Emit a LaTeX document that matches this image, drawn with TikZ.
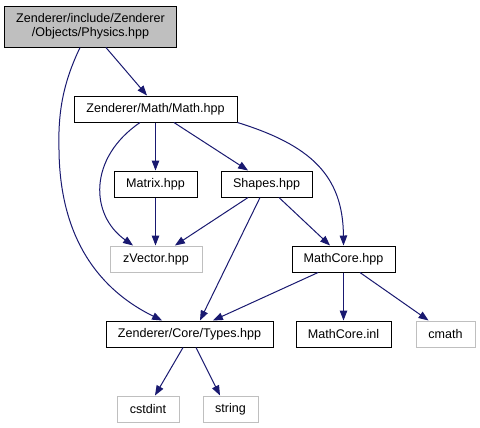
\documentclass[tikz,border=0pt]{standalone}
\usepackage{fontspec}
\setmainfont{Liberation Sans}
\usetikzlibrary{arrows.meta}
\definecolor{edgeblue}{HTML}{191970}
\definecolor{lgray}{HTML}{BFBFBF}
\begin{document}
\begin{tikzpicture}[x=1bp,y=-1bp,
  box/.style={draw=black,line width=1bp,fill=white,inner sep=0pt,minimum height=26bp,
    font=\fontsize{12.6}{14}\selectfont},
  graybox/.style={box,draw=lgray},
  rootbox/.style={box,fill=lgray,align=center,minimum height=41bp},
  dep/.style={draw=edgeblue,line width=1bp,-{Triangle[length=10bp,width=7.5bp]}}]
\useasboundingbox (0,0) rectangle (480,427);
\node[rootbox,minimum width=171bp] (phys) at (90.5,26.5) {Zenderer/include/Zenderer\\/Objects/Physics.hpp};
\node[box,minimum width=163bp] (math) at (155.5,109) {Zenderer/Math/Math.hpp};
\node[box,minimum width=83bp] (matrix) at (155.5,184) {Matrix.hpp};
\node[box,minimum width=91bp] (shapes) at (266.5,184) {Shapes.hpp};
\node[graybox,minimum width=92bp] (zvec) at (156,259) {zVector.hpp};
\node[box,minimum width=103bp] (mcore) at (343.5,259) {MathCore.hpp};
\node[box,minimum width=167bp] (types) at (189.5,334) {Zenderer/Core/Types.hpp};
\node[box,minimum width=95bp] (inl) at (343.5,334) {MathCore.inl};
\node[graybox,minimum width=59bp] (cmath) at (445.5,334) {cmath};
\node[graybox,minimum width=62bp] (cstdint) at (148,409) {cstdint};
\node[graybox,minimum width=55bp] (string) at (230.5,409) {string};

\draw[dep] ([xshift=15.5]phys.south) -- ([xshift=-8.5]math.north);
\draw[dep] ([xshift=-10.5]phys.south) .. controls (62,85) and (58,115) .. (59,150)
  .. controls (60,250) and (110,295) .. ([xshift=-27.5]types.north);
\draw[dep] (math.south) -- (matrix.north);
\draw[dep] ([xshift=-15.5]math.south) .. controls (88,158) and (90,215) .. ([xshift=-23]zvec.north);
\draw[dep] ([xshift=18.5]math.south) -- ([xshift=-18.5]shapes.north);
\draw[dep] (math.south east) .. controls (310,145) and (343,175) .. (mcore.north);
\draw[dep] (matrix.south) -- (matrix.south |- zvec.north);
\draw[dep] ([xshift=-18.5]shapes.south) -- ([xshift=19]zvec.north);
\draw[dep] ([xshift=-6.5]shapes.south) -- ([xshift=10.5]types.north);
\draw[dep] ([xshift=12.5]shapes.south) -- ([xshift=-13.5]mcore.north);
\draw[dep] ([xshift=-25.5]mcore.south) -- ([xshift=23.5]types.north);
\draw[dep] (mcore.south) -- (inl.north);
\draw[dep] ([xshift=16.5]mcore.south) -- ([xshift=-17]cmath.north);
\draw[dep] ([xshift=-6.5]types.south) -- ([xshift=7]cstdint.north);
\draw[dep] ([xshift=6.5]types.south) -- ([xshift=-10.5]string.north);
\end{tikzpicture}
\end{document}
